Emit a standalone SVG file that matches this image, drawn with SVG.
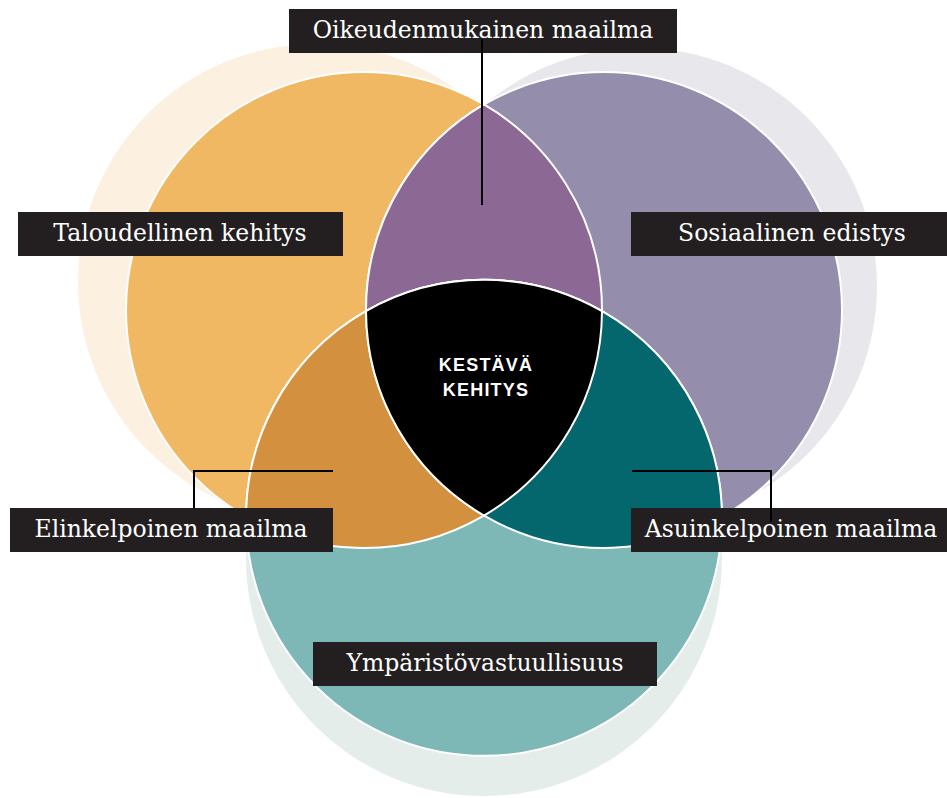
<svg xmlns="http://www.w3.org/2000/svg" width="947" height="798" viewBox="0 0 947 798">
<style>
.ring{stroke:#ffffff;stroke-width:2}
.box{fill:#231f20}
.lbl{font-family:"DejaVu Serif","Liberation Serif",serif;font-size:23.5px;fill:#ffffff;text-anchor:middle}
.core{font-family:"Liberation Sans",Arial,sans-serif;font-size:18px;font-weight:bold;fill:#ffffff;text-anchor:middle;letter-spacing:1.2px}
.conn{stroke:#000000;stroke-width:2;fill:none}
</style>
<rect width="947" height="798" fill="#ffffff"/>
<g id="shadows">
<circle cx="316" cy="282" r="238" fill="#fcf0e1"/>
<circle cx="639" cy="286" r="238" fill="#e8e7ec"/>
<circle cx="484" cy="558" r="238" fill="#e4edea"/>
</g>
<g id="taloudellinen-circle">
<circle class="ring" cx="364" cy="310" r="238" fill="#f1b863"/>
</g>
<g id="sosiaalinen-circle">
<circle class="ring" cx="604" cy="310" r="238" fill="#948dac"/>
</g>
<g id="ymparisto-circle">
<circle class="ring" cx="484" cy="517.85" r="238" fill="#7db7b6"/>
</g>
<g id="oikeudenmukainen-lens">
<path class="ring" fill="#8c6894" d="M484 104.47A238 238 0 0 1 484 515.53A238 238 0 0 1 484 104.47Z"/>
</g>
<g id="elinkelpoinen-lens">
<path class="ring" fill="#d3913f" d="M602 311.15A238 238 0 0 1 246 516.7A238 238 0 0 1 602 311.15Z"/>
</g>
<g id="asuinkelpoinen-lens">
<path class="ring" fill="#03676d" d="M722 516.7A238 238 0 0 1 366 311.15A238 238 0 0 1 722 516.7Z"/>
</g>
<g id="kestava-kehitys">
<path class="ring" fill="#000000" d="M366 311.15A238 238 0 0 1 602 311.15A238 238 0 0 1 484 515.53A238 238 0 0 1 366 311.15Z"/>
<text class="core" x="486" y="371">KESTÄVÄ</text>
<text class="core" x="486" y="396">KEHITYS</text>
</g>
<g id="label-oikeudenmukainen">
<rect class="box" x="289" y="9" width="388" height="44"/>
<text class="lbl" x="483" y="38">Oikeudenmukainen maailma</text>
</g>
<g id="label-taloudellinen">
<rect class="box" x="18" y="212" width="325" height="44"/>
<text class="lbl" x="180" y="241">Taloudellinen kehitys</text>
</g>
<g id="label-sosiaalinen">
<rect class="box" x="631" y="212" width="320" height="44"/>
<text class="lbl" x="792" y="241">Sosiaalinen edistys</text>
</g>
<g id="label-elinkelpoinen">
<rect class="box" x="10" y="508" width="323" height="44"/>
<text class="lbl" x="171" y="537">Elinkelpoinen maailma</text>
</g>
<g id="label-asuinkelpoinen">
<rect class="box" x="631" y="508" width="320" height="44"/>
<text class="lbl" x="791" y="537">Asuinkelpoinen maailma</text>
</g>
<g id="label-ymparisto">
<rect class="box" x="313" y="642" width="344" height="44"/>
<text class="lbl" x="485" y="671">Ympäristövastuullisuus</text>
</g>
<g id="connectors">
<path class="conn" d="M482 39V205"/>
<path class="conn" d="M333 471H194V508"/>
<path class="conn" d="M632 471H771V522"/>
</g>
</svg>
